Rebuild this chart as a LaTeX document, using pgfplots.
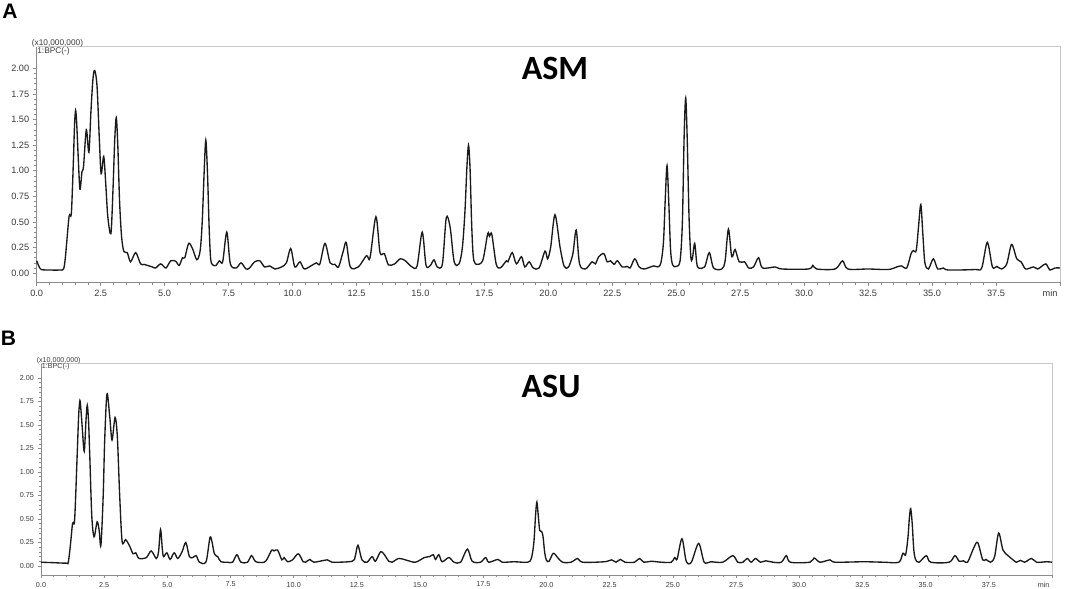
\documentclass[border=0pt]{standalone}
\usepackage{pgfplots}
\pgfplotsset{compat=1.18}
\usepackage{fontspec}
\setmainfont{Liberation Sans}
\newfontfamily\titlefont{Carlito}
\definecolor{axgray}{HTML}{8C8C8C}
\definecolor{topgray}{HTML}{C8C8C8}
\definecolor{ticktext}{HTML}{3A3A3A}
\definecolor{trace}{HTML}{1A1A1A}
\pgfplotsset{
  chrom/.style={
    scale only axis, xmin=0, xmax=40,
    axis x line*=bottom, axis y line*=left,
    x axis line style={-, draw=axgray, line width=0.8bp},
    y axis line style={-, draw=axgray, line width=0.8bp},
    tick align=outside,
    major tick length=4bp, minor tick length=2.5bp,
    minor tick num=4,
    every tick/.style={axgray, line width=0.6bp},
    minor tick style={axgray, line width=0.5bp},
    /pgf/number format/assume math mode=true,
    xtick={0,2.5,5,7.5,10,12.5,15,17.5,20,22.5,25,27.5,30,32.5,35,37.5},
    xticklabels={0.0,2.5,5.0,7.5,10.0,12.5,15.0,17.5,20.0,22.5,25.0,27.5,30.0,32.5,35.0,37.5},
    extra x ticks={40},
    extra x tick labels={min},
    extra x tick style={xticklabel style={anchor=north east, xshift=1bp}},
    ytick={0,0.25,0.5,0.75,1,1.25,1.5,1.75,2},
    yticklabels={0.00,0.25,0.50,0.75,1.00,1.25,1.50,1.75,2.00},
    clip=false,
  }
}
\pgfplotstableread{
x y
0.00 0.12
0.08 0.07
0.18 0.035
0.5 0.03
0.9 0.03
1.05 0.04
1.12 0.15
1.18 0.32
1.27 0.56
1.35 0.57
1.40 0.85
1.44 1.14
1.48 1.45
1.52 1.59
1.56 1.48
1.62 1.15
1.69 0.82
1.77 0.99
1.83 1.04
1.94 1.40
2.04 1.18
2.12 1.58
2.20 1.90
2.27 1.98
2.36 1.82
2.45 1.30
2.52 0.97
2.62 1.14
2.70 0.87
2.78 0.55
2.90 0.385
2.98 0.80
3.05 1.30
3.11 1.52
3.17 1.25
3.24 0.70
3.32 0.35
3.41 0.21
3.54 0.20
3.67 0.11
3.87 0.20
4.06 0.09
4.20 0.085
4.33 0.075
4.52 0.06
4.65 0.05
4.85 0.09
5.05 0.05
5.24 0.12
5.44 0.115
5.57 0.075
5.70 0.15
5.79 0.15
5.94 0.29
6.09 0.24
6.26 0.13
6.39 0.22
6.47 0.50
6.54 0.95
6.61 1.30
6.68 0.95
6.74 0.45
6.80 0.14
6.88 0.08
7.01 0.075
7.14 0.12
7.27 0.11
7.43 0.40
7.57 0.09
7.80 0.05
7.99 0.10
8.18 0.04
8.32 0.05
8.52 0.11
8.72 0.12
8.91 0.06
9.11 0.07
9.31 0.04
9.57 0.06
9.76 0.10
9.93 0.24
10.09 0.06
10.29 0.11
10.46 0.04
10.75 0.075
10.94 0.10
11.07 0.09
11.27 0.29
11.47 0.10
11.66 0.085
11.80 0.06
11.99 0.22
12.10 0.30
12.26 0.06
12.57 0.06
12.89 0.17
13.03 0.15
13.26 0.55
13.42 0.20
13.59 0.19
13.75 0.08
13.99 0.09
14.21 0.14
14.41 0.12
14.67 0.06
14.87 0.07
15.07 0.40
15.22 0.075
15.39 0.075
15.53 0.13
15.66 0.06
15.86 0.09
16.01 0.54
16.16 0.45
16.32 0.11
16.51 0.09
16.64 0.25
16.74 0.60
16.82 1.05
16.88 1.25
16.94 1.02
17.00 0.50
17.06 0.18
17.15 0.09
17.43 0.12
17.63 0.385
17.70 0.36
17.79 0.38
17.96 0.09
18.12 0.05
18.36 0.12
18.42 0.11
18.59 0.20
18.75 0.09
18.95 0.16
19.08 0.06
19.25 0.11
19.41 0.05
19.64 0.05
19.87 0.215
19.97 0.14
20.09 0.25
20.26 0.57
20.46 0.25
20.62 0.065
20.79 0.06
20.96 0.19
21.09 0.42
21.22 0.09
21.45 0.04
21.71 0.11
21.84 0.09
21.97 0.16
22.17 0.19
22.30 0.11
22.43 0.12
22.57 0.085
22.70 0.12
22.89 0.06
23.09 0.065
23.20 0.05
23.38 0.14
23.55 0.06
23.75 0.04
24.12 0.07
24.28 0.06
24.40 0.10
24.50 0.30
24.57 0.72
24.64 1.05
24.71 0.68
24.78 0.22
24.86 0.08
25.00 0.065
25.15 0.12
25.24 0.50
25.31 1.35
25.37 1.71
25.43 1.30
25.50 0.55
25.57 0.16
25.63 0.14
25.72 0.29
25.80 0.10
25.87 0.05
26.11 0.06
26.29 0.20
26.46 0.05
26.78 0.04
26.91 0.12
27.04 0.43
27.17 0.16
27.30 0.23
27.46 0.11
27.67 0.11
27.83 0.05
28.02 0.06
28.22 0.15
28.37 0.05
28.87 0.06
29.13 0.04
30.17 0.04
30.34 0.075
30.49 0.04
31.21 0.04
31.50 0.12
31.71 0.04
32.51 0.04
33.29 0.035
33.62 0.06
33.81 0.07
34.01 0.05
34.18 0.19
34.27 0.22
34.38 0.22
34.47 0.45
34.56 0.67
34.64 0.38
34.72 0.10
34.86 0.04
35.05 0.14
35.22 0.04
35.44 0.05
35.64 0.03
36.68 0.035
36.94 0.05
37.16 0.30
37.36 0.06
37.53 0.065
37.72 0.04
37.92 0.09
38.11 0.28
38.31 0.14
38.48 0.11
38.66 0.04
38.96 0.06
39.13 0.04
39.28 0.065
39.45 0.09
39.61 0.03
39.80 0.05
40.00 0.05
}\asm
\pgfplotstableread{
x y
0.00 0.04
0.5 0.035
1.00 0.03
1.08 0.04
1.17 0.24
1.25 0.455
1.33 0.49
1.43 1.17
1.49 1.60
1.54 1.76
1.58 1.66
1.63 1.48
1.71 1.22
1.78 1.55
1.83 1.71
1.88 1.55
1.93 1.17
2.01 0.53
2.10 0.31
2.22 0.47
2.30 0.38
2.37 0.22
2.46 0.74
2.52 1.34
2.61 1.83
2.72 1.59
2.81 1.34
2.93 1.58
3.02 1.38
3.11 0.77
3.21 0.26
3.35 0.28
3.51 0.21
3.64 0.13
3.75 0.14
3.88 0.08
4.17 0.09
4.36 0.16
4.56 0.08
4.65 0.15
4.73 0.39
4.80 0.18
4.85 0.10
4.98 0.14
5.11 0.07
5.27 0.14
5.41 0.08
5.58 0.15
5.73 0.25
5.87 0.10
6.01 0.09
6.14 0.11
6.27 0.04
6.53 0.045
6.70 0.31
6.86 0.13
6.99 0.10
7.12 0.045
7.38 0.04
7.58 0.04
7.75 0.12
7.91 0.04
8.17 0.04
8.33 0.11
8.50 0.045
8.83 0.04
8.96 0.08
9.13 0.17
9.22 0.16
9.36 0.17
9.53 0.065
9.62 0.09
9.75 0.045
9.95 0.065
10.18 0.13
10.37 0.045
10.47 0.04
10.64 0.07
10.80 0.04
11.33 0.065
11.52 0.04
12.31 0.05
12.43 0.10
12.54 0.22
12.70 0.065
12.90 0.04
13.10 0.10
13.23 0.05
13.43 0.15
13.56 0.13
13.76 0.05
13.89 0.04
14.15 0.08
14.42 0.065
14.81 0.04
15.17 0.09
15.38 0.10
15.52 0.12
15.61 0.07
15.74 0.12
15.87 0.045
16.14 0.09
16.34 0.04
16.60 0.04
16.87 0.18
17.06 0.05
17.39 0.04
17.59 0.09
17.72 0.04
18.08 0.07
18.25 0.04
18.72 0.045
19.25 0.04
19.40 0.08
19.50 0.25
19.57 0.55
19.62 0.68
19.68 0.52
19.73 0.38
19.80 0.37
19.86 0.32
19.93 0.14
20.00 0.06
20.10 0.05
20.27 0.135
20.44 0.09
20.63 0.04
20.97 0.04
21.23 0.08
21.43 0.04
22.29 0.045
22.58 0.065
22.75 0.04
22.92 0.07
23.11 0.04
23.48 0.04
23.68 0.08
23.85 0.04
24.14 0.05
24.54 0.04
24.94 0.04
25.07 0.09
25.17 0.075
25.36 0.29
25.53 0.05
25.73 0.04
26.02 0.24
26.24 0.04
26.50 0.045
26.97 0.04
27.37 0.11
27.57 0.04
27.77 0.04
27.94 0.08
28.10 0.04
28.27 0.08
28.46 0.04
28.67 0.055
28.96 0.04
29.29 0.04
29.49 0.11
29.65 0.04
30.42 0.04
30.59 0.085
30.82 0.04
31.22 0.065
31.42 0.04
32.55 0.045
33.34 0.04
33.94 0.04
34.10 0.135
34.21 0.12
34.30 0.30
34.36 0.52
34.41 0.61
34.47 0.45
34.53 0.18
34.60 0.07
34.74 0.04
35.03 0.11
35.20 0.04
35.93 0.04
36.16 0.11
36.33 0.05
36.50 0.055
36.66 0.04
36.90 0.19
37.06 0.25
37.26 0.065
37.39 0.07
37.57 0.04
37.73 0.10
37.89 0.35
38.06 0.17
38.26 0.11
38.46 0.065
38.59 0.04
38.76 0.06
38.92 0.04
39.19 0.08
39.39 0.04
39.79 0.045
40.00 0.04
}\asu
\begin{document}
\begin{tikzpicture}
\path[use as bounding box] (0,0) rectangle (1065bp,589bp);
% Panel A
\begin{axis}[chrom,
  at={(36.7bp,306.9bp)}, anchor=south west,
  width=1023.3bp, height=235.3bp,
  ymin=-0.088, ymax=2.211,
  ticklabel style={font=\fontsize{9.2bp}{9.5bp}\selectfont, text=ticktext},
  xticklabel style={yshift=-0.5bp},
]
\draw[topgray, line width=0.8bp] (rel axis cs:0,1) -- (rel axis cs:1,1) -- (rel axis cs:1,0);
\addplot[trace, line width=1.35bp, smooth, tension=0.5, mark=none] table[x=x,y=y] {\asm};
\end{axis}
% Panel B
\begin{axis}[chrom,
  at={(41bp,14bp)}, anchor=south west,
  width=1011bp, height=212bp,
  ymin=-0.096, ymax=2.16,
  ticklabel style={font=\fontsize{7.2bp}{7.5bp}\selectfont, text=ticktext},
  major tick length=3.5bp, minor tick length=2bp,
]
\draw[topgray, line width=0.8bp] (rel axis cs:0,1) -- (rel axis cs:1,1) -- (rel axis cs:1,0);
\addplot[trace, line width=1.35bp, smooth, tension=0.5, mark=none] table[x=x,y=y] {\asu};
\end{axis}
% texts
\node[font=\fontsize{21bp}{21bp}\selectfont\bfseries] at (10bp,578bp) {A};
\node[font=\fontsize{21bp}{21bp}\selectfont\bfseries] at (8.5bp,250.5bp) {B};
\node[font=\titlefont\fontsize{34bp}{34bp}\selectfont\bfseries] at (555bp,521bp) {ASM};
\node[font=\titlefont\fontsize{34bp}{34bp}\selectfont\bfseries] at (551bp,203bp) {ASU};
\node[font=\fontsize{8.3bp}{8.3bp}\selectfont, text=ticktext, inner sep=0pt] at (57.5bp,546bp) {(x10,000,000)};
\node[font=\fontsize{8.3bp}{8.3bp}\selectfont, text=ticktext, inner sep=0pt] at (53.5bp,538bp) {1:BPC(-)};
\node[font=\fontsize{7.1bp}{7.1bp}\selectfont, text=ticktext, inner sep=0pt] at (58.7bp,228.5bp) {(x10,000,000)};
\node[font=\fontsize{7.1bp}{7.1bp}\selectfont, text=ticktext, inner sep=0pt] at (55.8bp,222.7bp) {1:BPC(-)};
\end{tikzpicture}
\end{document}
